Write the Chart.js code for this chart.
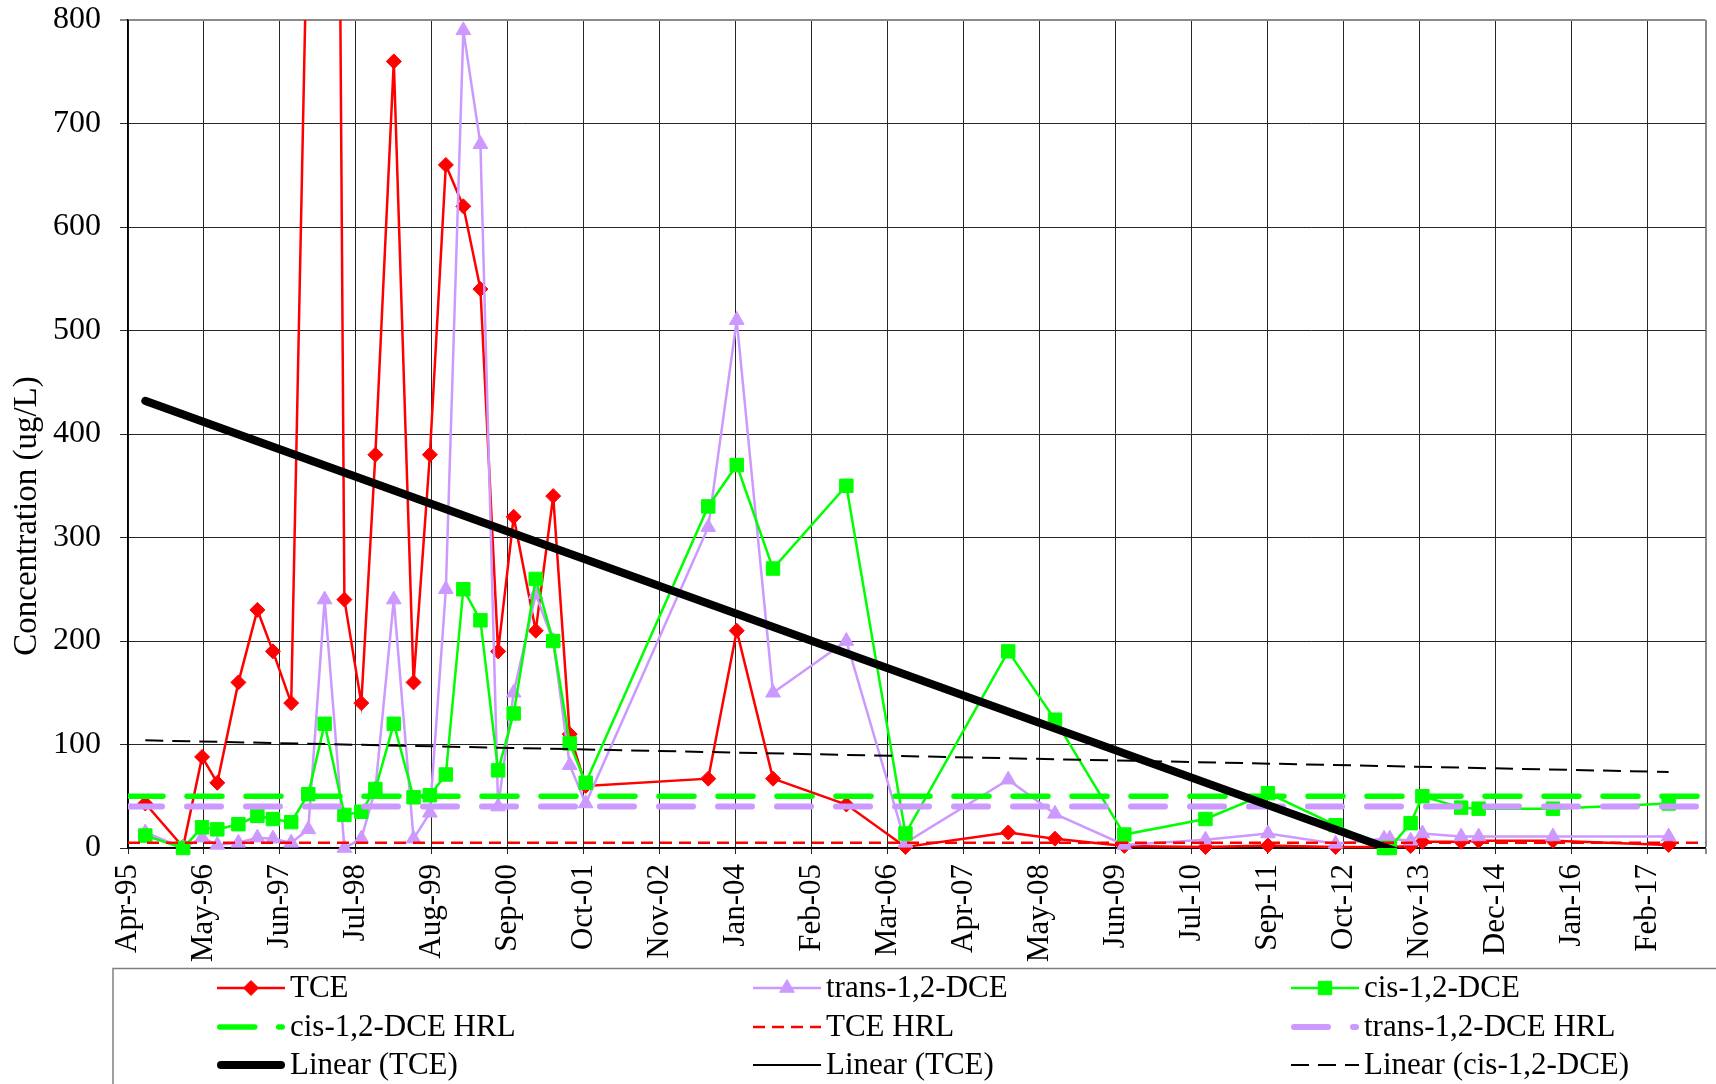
<!DOCTYPE html>
<html>
<head>
<meta charset="utf-8">
<script src="https://cdn.jsdelivr.net/npm/chart.js@4/dist/chart.umd.min.js"></script>
<style>
  html, body { margin: 0; padding: 0; background: #ffffff; }
  #wrap { width: 1716px; height: 1084px; position: relative; }
</style>
</head>
<body>
<div id="wrap"><canvas id="c" width="1716" height="1084"></canvas></div>
<script>
// ---- data ----------------------------------------------------------------
const axisStart = '1995-04-01';
const axisEnd = '2017-12-24';
const xTickStepDays = 400;
const xTickLabels = ['Apr-95', 'May-96', 'Jun-97', 'Jul-98', 'Aug-99', 'Sep-00', 'Oct-01',
  'Nov-02', 'Jan-04', 'Feb-05', 'Mar-06', 'Apr-07', 'May-08', 'Jun-09', 'Jul-10',
  'Sep-11', 'Oct-12', 'Nov-13', 'Dec-14', 'Jan-16', 'Feb-17'];

const sampleDates = [
  '1995-07-01', '1996-01-16', '1996-04-25', '1996-07-14', '1996-11-02', '1997-02-10',
  '1997-05-03', '1997-08-07', '1997-11-05', '1998-01-30', '1998-05-14', '1998-08-11',
  '1998-10-24', '1999-01-29', '1999-05-13', '1999-08-07', '1999-10-30', '2000-01-30',
  '2000-04-29', '2000-07-31', '2000-10-21', '2001-02-14', '2001-05-17', '2001-08-12',
  '2001-11-04', '2003-08-11', '2004-01-08', '2004-07-17', '2005-08-07', '2006-06-14',
  '2007-12-07', '2008-08-09', '2009-08-09', '2010-10-10', '2011-09-04', '2012-08-25',
  '2013-05-07', '2013-06-06', '2013-09-24', '2013-11-25', '2014-06-17', '2014-09-17',
  '2015-10-13', '2017-06-13'];

// TCE (ug/L)
const tce = [
  43, 1, 88, 63, 160, 230,
  190, 140, 950, 3000, 240, 140,
  380, 760, 160, 380, 660, 620,
  540, 190, 320, 210, 340, 110,
  60, 67, 210, 67, 42, 1,
  15, 9, 2, 1, 2.5, 1,
  1, 1, 2, 6, 6, 7,
  7, 3];

// trans-1,2-DCE (ug/L)
const trans = [
  15, 0, 10, 3, 5, 10,
  9, 5, 18, 240, 0, 9,
  57, 240, 9, 34, 250, 790,
  680, 40, 150, 245, 200, 80,
  43, 310, 510, 150, 200, 5,
  66, 33, 3, 8, 14, 4,
  9, 9, 7, 14, 11, 11,
  11, 11];

// cis-1,2-DCE (ug/L)
const cis = [
  12, 0, 20, 18, 23, 31,
  28, 25, 52, 120, 32, 35,
  57, 120, 49, 51, 71, 250,
  220, 75, 130, 260, 200, 101,
  63, 330, 370, 270, 350, 14,
  190, 124, 13, 28, 53, 22,
  0, 0, 24, 50, 39, 38,
  38, 43];

// health risk limits, drawn across the whole date range
const hrlDates = [axisStart, axisEnd];
const cisHrl = [50, 50];
const tceHrl = [5, 5];
const transHrl = [40, 40];

// linear trend lines (first to last sample)
const trendDates = ['1995-07-01', '2017-06-13'];
const tceTrend = [432, -98];
const cisTrend = [104, 73.5];

const yTicks = [0, 100, 200, 300, 400, 500, 600, 700, 800];
const yTitle = 'Concentration (ug/L)';

// ---- helpers -------------------------------------------------------------
const DAY_MS = 86400000;
function toUtc(s) { const p = s.split('-').map(Number); return Date.UTC(p[0], p[1] - 1, p[2]); }
const originMs = toUtc(axisStart);
function dayOf(s) { return Math.round((toUtc(s) - originMs) / DAY_MS); }
function series(dates, values) {
  const out = [];
  dates.forEach((d, i) => { if (values[i] !== null && values[i] !== undefined) out.push({ x: dayOf(d), y: values[i] }); });
  return out;
}
function noScalePadding(scale) {
  scale.paddingLeft = 0; scale.paddingRight = 0; scale.paddingTop = 0; scale.paddingBottom = 0;
}

const FONT = '"Liberation Serif", "Times New Roman", serif';
const RED = '#FF0000', LAV = '#CC99FF', GREEN = '#00FF00';
const GRID = '#262626', FRAME = '#8a8a8a';

const datasets = [
  { label: 'TCE', data: series(sampleDates, tce), borderColor: RED, borderWidth: 2.5,
    pointStyle: 'rectRot', pointRadius: 7.5, pointBackgroundColor: RED, pointBorderColor: RED,
    clip: { left: 12, top: 0, right: 12, bottom: 14 } },
  { label: 'trans-1,2-DCE', data: series(sampleDates, trans), borderColor: LAV, borderWidth: 2.5,
    pointStyle: 'triangle', pointRadius: 8.5, pointBackgroundColor: LAV, pointBorderColor: LAV,
    clip: { left: 12, top: 0, right: 12, bottom: 14 } },
  { label: 'cis-1,2-DCE', data: series(sampleDates, cis), borderColor: GREEN, borderWidth: 2.5,
    pointStyle: 'rect', pointRadius: 9.5, pointBackgroundColor: GREEN, pointBorderColor: GREEN,
    clip: { left: 12, top: 0, right: 12, bottom: 14 } },
  { label: 'cis-1,2-DCE HRL', data: series(hrlDates, cisHrl), borderColor: GREEN, borderWidth: 5.5,
    borderDash: [35, 24], borderCapStyle: 'round', pointRadius: 0, clip: 0 },
  { label: 'TCE HRL', data: series(hrlDates, tceHrl), borderColor: RED, borderWidth: 2.5,
    borderDash: [12, 7], pointRadius: 0, clip: 0 },
  { label: 'trans-1,2-DCE HRL', data: series(hrlDates, transHrl), borderColor: LAV, borderWidth: 6,
    borderDash: [34, 25], borderCapStyle: 'round', pointRadius: 0, clip: 0 },
  { label: 'Linear (TCE)', data: series(trendDates, tceTrend), borderColor: '#000000', borderWidth: 8,
    borderCapStyle: 'round', pointRadius: 0, clip: { left: 10, top: 0, right: 0, bottom: 0 } },
  { label: 'Linear (TCE)', data: [], borderColor: '#000000', borderWidth: 2, pointRadius: 0 },
  { label: 'Linear (cis-1,2-DCE)', data: series(trendDates, cisTrend), borderColor: '#000000', borderWidth: 2,
    borderDash: [18, 9], pointRadius: 0, clip: 0 }
];
datasets.forEach((ds, i) => {
  ds.order = -i;            // later series are painted over earlier ones
  ds.tension = 0;
  ds.spanGaps = true;
  ds.fill = false;
  ds.pointBorderWidth = 1;
  ds.pointHoverRadius = ds.pointRadius;
});

// vertical axis title, set lower than the plot's middle
const axisTitle = {
  id: 'axisTitle',
  afterDraw(chart) {
    const ctx = chart.ctx;
    ctx.save();
    ctx.translate(27, 516);
    ctx.rotate(-Math.PI / 2);
    ctx.fillStyle = '#000000';
    ctx.font = '33px ' + FONT;
    ctx.textAlign = 'center';
    ctx.textBaseline = 'middle';
    ctx.fillText(yTitle, 0, 0);
    ctx.restore();
  }
};

// legend framed in a box under the axis, three entries per row
const boxLegend = {
  id: 'boxLegend',
  afterDraw(chart) {
    const ctx = chart.ctx;
    ctx.save();
    ctx.strokeStyle = '#808080';
    ctx.lineWidth = 1.5;
    ctx.beginPath();
    ctx.moveTo(113, 1090);
    ctx.lineTo(113, 968.5);
    ctx.lineTo(1720, 968.5);
    ctx.stroke();

    const cols = [217, 753, 1291];
    const rows = [988, 1027, 1065];
    const len = 68;
    chart.data.datasets.forEach((ds, i) => {
      const x0 = cols[i % 3];
      const y0 = rows[Math.floor(i / 3)];
      ctx.save();
      ctx.strokeStyle = ds.borderColor;
      ctx.lineWidth = ds.borderWidth;
      ctx.lineCap = ds.borderCapStyle || 'butt';
      ctx.setLineDash(ds.borderDash || []);
      const inset = ctx.lineCap === 'round' ? ds.borderWidth / 2 : 0;
      ctx.beginPath();
      ctx.moveTo(x0 + inset, y0);
      ctx.lineTo(x0 + len - inset, y0);
      ctx.stroke();
      ctx.setLineDash([]);
      if (ds.pointRadius > 0) {
        ctx.fillStyle = ds.pointBackgroundColor;
        ctx.strokeStyle = ds.pointBorderColor;
        ctx.lineWidth = 1;
        Chart.helpers.drawPoint(ctx, { pointStyle: ds.pointStyle, radius: ds.pointRadius, rotation: 0, borderWidth: 1 },
          x0 + len / 2, y0);
      }
      ctx.fillStyle = '#000000';
      ctx.font = '31px ' + FONT;
      ctx.textBaseline = 'middle';
      ctx.textAlign = 'left';
      ctx.fillText(ds.label, x0 + len + 5, y0 + 1);
      ctx.restore();
    });
    ctx.restore();
  }
};

const endDay = dayOf(axisEnd);

new Chart(document.getElementById('c'), {
  type: 'line',
  data: { datasets },
  options: {
    responsive: false,
    animation: false,
    devicePixelRatio: 1,
    events: [],
    layout: { padding: { top: 20, right: 2, left: 0, bottom: 0 } },
    plugins: { legend: { display: false }, tooltip: { enabled: false } },
    scales: {
      x: {
        type: 'linear',
        min: 0,
        max: endDay,
        afterBuildTicks(scale) {
          scale.ticks = xTickLabels.map((_, i) => ({ value: i * xTickStepDays })).concat([{ value: endDay }]);
        },
        afterFit(scale) { scale.height = 236; noScalePadding(scale); },
        ticks: {
          autoSkip: false,
          minRotation: 90,
          maxRotation: 90,
          padding: 10,
          color: '#000000',
          font: { family: FONT, size: 31 },
          callback: (value, index) => (index < xTickLabels.length ? xTickLabels[index] : '')
        },
        grid: {
          color: (c) => (c.index === xTickLabels.length ? FRAME : GRID),
          lineWidth: (c) => (c.index === xTickLabels.length ? 2 : 1),
          tickLength: 6
        },
        border: { display: true, color: '#000000', width: 1.5 }
      },
      y: {
        min: 0,
        max: 800,
        afterBuildTicks(scale) { scale.ticks = yTicks.map(v => ({ value: v })); },
        afterFit(scale) { scale.width = 128; noScalePadding(scale); },
        ticks: {
          padding: 19,
          color: '#000000',
          font: { family: FONT, size: 32 }
        },
        grid: {
          color: (c) => (c.tick && c.tick.value === 800 ? FRAME : GRID),
          lineWidth: (c) => (c.tick && c.tick.value === 800 ? 2 : 1),
          tickLength: 8
        },
        border: { display: true, color: '#000000', width: 1.5 }
      }
    }
  },
  plugins: [axisTitle, boxLegend]
});
</script>
</body>
</html>
